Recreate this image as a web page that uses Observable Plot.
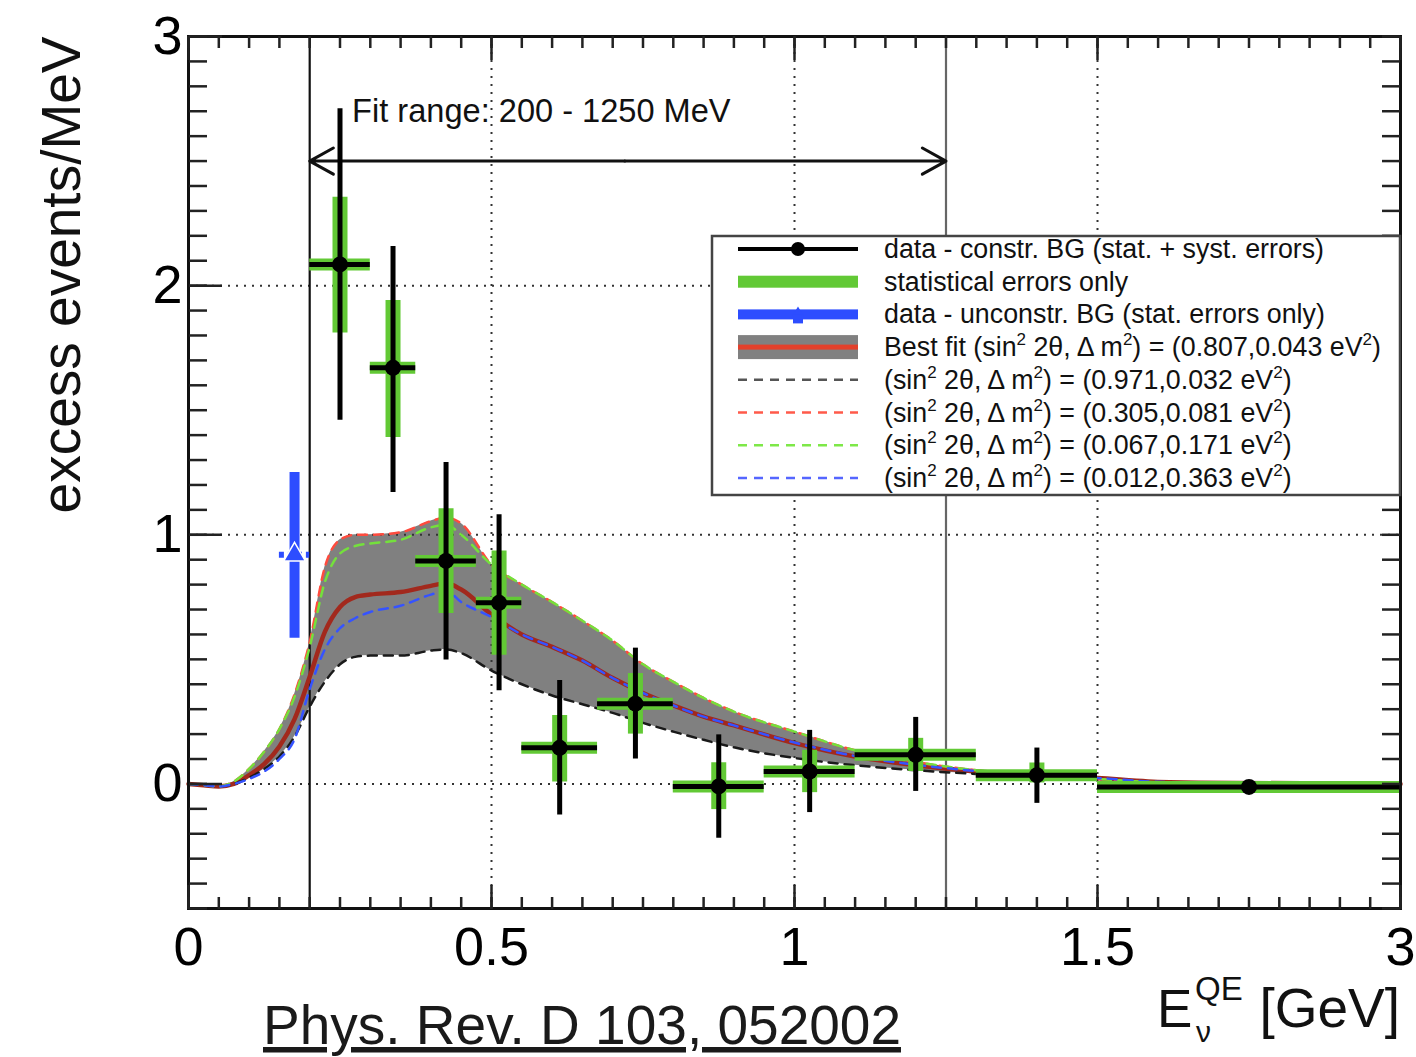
<!DOCTYPE html>
<html><head><meta charset="utf-8">
<script src="https://cdn.jsdelivr.net/npm/d3@7"></script>
<script src="https://cdn.jsdelivr.net/npm/@observablehq/plot@0.6"></script>
<style>body{margin:0;background:#fff;} #chart svg{display:block}</style>
</head><body><div id="chart"></div>
<script>
// ---------- data ----------
// data - constrained BG, bins in GeV (last bin 1.5-3 GeV shown compressed)
const binLo  = [0.2, 0.3, 0.375, 0.475, 0.55, 0.675, 0.8, 0.95, 1.1, 1.3, 1.5];
const binHi  = [0.3, 0.375, 0.475, 0.55, 0.675, 0.8, 0.95, 1.1, 1.3, 1.5, 3.0];
const binMid = [0.25, 0.3375, 0.425, 0.5125, 0.6125, 0.7375, 0.875, 1.025, 1.2, 1.4, 2.25];
const excess = [2.085, 1.67, 0.895, 0.727, 0.145, 0.322, -0.01, 0.05, 0.117, 0.035, -0.012];
const sysHi  = [2.71, 2.157, 1.29, 1.08, 0.415, 0.545, 0.197, 0.215, 0.267, 0.144, 0.0];
const sysLo  = [1.46, 1.17, 0.497, 0.374, -0.125, 0.10, -0.218, -0.115, -0.03, -0.078, -0.024];
const statHi = [2.355, 1.94, 1.104, 0.935, 0.275, 0.443, 0.085, 0.135, 0.183, 0.084, 0.0];
const statLo = [1.81, 1.39, 0.684, 0.516, 0.008, 0.2, -0.103, -0.035, 0.05, 0.004, -0.024];

// data - unconstrained BG (single bin)
const blueLo = [0.15], blueHi = [0.2], blueMid = [0.175];
const blueVal = [0.92], blueErrLo = [0.585], blueErrHi = [1.25];

// model curves
const curveX  = [0, 0.025, 0.05, 0.075, 0.1, 0.125, 0.15, 0.175, 0.2, 0.225, 0.25, 0.275, 0.3, 0.35, 0.4, 0.425, 0.45, 0.5, 0.55, 0.6, 0.65, 0.7, 0.75, 0.8, 0.85, 0.9, 1.0, 1.1, 1.2, 1.3, 1.4, 1.5, 1.75, 2.0, 3.0];
const bestFit = [0, -0.005, -0.01, 0.0, 0.035, 0.08, 0.15, 0.26, 0.43, 0.61, 0.71, 0.75, 0.76, 0.77, 0.795, 0.805, 0.78, 0.68, 0.60, 0.55, 0.495, 0.425, 0.365, 0.315, 0.27, 0.235, 0.164, 0.11, 0.075, 0.05, 0.035, 0.024, 0.01, 0.005, 0];
const fit0971 = [0, -0.005, -0.01, 0.0, 0.025, 0.06, 0.11, 0.19, 0.31, 0.41, 0.48, 0.51, 0.515, 0.515, 0.535, 0.54, 0.525, 0.455, 0.40, 0.355, 0.32, 0.285, 0.245, 0.21, 0.177, 0.147, 0.104, 0.075, 0.055, 0.04, 0.03, 0.02, 0.008, 0.004, 0];
const fit0305 = [0, -0.005, -0.01, 0.01, 0.06, 0.13, 0.22, 0.36, 0.57, 0.87, 0.98, 1.0, 1.0, 1.01, 1.055, 1.07, 1.045, 0.88, 0.80, 0.73, 0.655, 0.575, 0.48, 0.41, 0.345, 0.29, 0.21, 0.135, 0.088, 0.055, 0.035, 0.02, 0.008, 0.004, 0];
const fit0067 = [0, -0.005, -0.01, 0.01, 0.06, 0.13, 0.22, 0.35, 0.55, 0.81, 0.925, 0.955, 0.965, 0.98, 1.03, 1.04, 1.0, 0.88, 0.80, 0.73, 0.655, 0.575, 0.48, 0.41, 0.345, 0.29, 0.21, 0.135, 0.088, 0.055, 0.035, 0.02, 0.008, 0.004, 0];
const fit0012 = [0, -0.005, -0.01, 0.0, 0.02, 0.05, 0.1, 0.18, 0.38, 0.54, 0.625, 0.665, 0.69, 0.715, 0.76, 0.775, 0.73, 0.67, 0.60, 0.55, 0.495, 0.425, 0.365, 0.315, 0.27, 0.235, 0.166, 0.112, 0.077, 0.052, 0.036, 0.024, 0.01, 0.005, 0];

// axes / annotation
const xTickLabels = [0, 0.5, 1, 1.5, 3];
const yTickLabels = [0, 1, 2, 3];
const xGridLines = [0.5, 1, 1.5];
const yGridLines = [0, 1, 2];
const fitRangeEdges = [0.2, 1.25];
const fitRangeText = "Fit range: 200 - 1250 MeV";
const yTitle = "excess events/MeV";
const citation = "Phys. Rev. D 103, 052002";
const legendLabels = [
  "data - constr. BG (stat. + syst. errors)",
  "statistical errors only",
  "data - unconstr. BG (stat. errors only)",
  "Best fit (sin^2 2θ, Δ m^2) = (0.807,0.043 eV^2)",
  "(sin^2 2θ, Δ m^2) = (0.971,0.032 eV^2)",
  "(sin^2 2θ, Δ m^2) = (0.305,0.081 eV^2)",
  "(sin^2 2θ, Δ m^2) = (0.067,0.171 eV^2)",
  "(sin^2 2θ, Δ m^2) = (0.012,0.363 eV^2)"
];

// ---------- build tables ----------
const points = binMid.map((c, i) => ({c, lo: binLo[i], hi: binHi[i], v: excess[i],
  sysLo: sysLo[i], sysHi: sysHi[i], statLo: statLo[i], statHi: statHi[i]}));
const bluePts = blueMid.map((c, i) => ({c, lo: blueLo[i], hi: blueHi[i], v: blueVal[i], eLo: blueErrLo[i], eHi: blueErrHi[i]}));
const curves = curveX.map((x, i) => ({x, bf: bestFit[i], a: fit0971[i], b: fit0305[i], c: fit0067[i], d: fit0012[i]}));

const minorX = [...d3.range(0, 30).map(i => i * 0.05), ...d3.range(0, 11).map(i => 1.5 + i * 0.15)];
const minorY = d3.range(-5, 31).map(i => i / 10);

const font = "'Liberation Sans', Arial, Helvetica, sans-serif";
const GREEN = "#62c935", BLUE = "#2d4dff", GRAY = "#808080";
const curve = "monotone-x";
const tickOpts = {fill: "none", label: null, stroke: "#222", strokeWidth: 2.5};

const svg = Plot.plot({
  width: 1416, height: 1057,
  marginLeft: 188, marginRight: 16, marginTop: 36, marginBottom: 149,
  style: {fontFamily: font, background: "white", color: "black", overflow: "visible"},
  x: {type: "linear", domain: [0, 1.5, 3], range: [188, 1097, 1400]},
  y: {type: "linear", domain: [-0.5, 3]},
  marks: [
    Plot.areaY(curves, {x: "x", y1: "a", y2: "b", fill: GRAY, curve}),
    Plot.ruleX(xGridLines, {stroke: "#333", strokeWidth: 2, strokeDasharray: "2,6"}),
    Plot.ruleY(yGridLines, {stroke: "#333", strokeWidth: 2, strokeDasharray: "2,6"}),
    Plot.ruleX(fitRangeEdges, {stroke: d => d < 1 ? "#111" : "#666", strokeWidth: 2.2}),
    Plot.line(curves, {x: "x", y: "bf", stroke: "#a2291d", strokeWidth: 4.5, curve}),
    Plot.line(curves, {x: "x", y: "a", stroke: "#1a1a1a", strokeWidth: 2.5, strokeDasharray: "9,7", curve}),
    Plot.line(curves, {x: "x", y: "b", stroke: "#ff4b3e", strokeWidth: 2.5, strokeDasharray: "9,7", curve}),
    Plot.line(curves, {x: "x", y: "c", stroke: "#74e03c", strokeWidth: 2.5, strokeDasharray: "9,7", curve}),
    Plot.line(curves, {x: "x", y: "d", stroke: "#3553ff", strokeWidth: 2.5, strokeDasharray: "9,7", curve}),
    Plot.arrow(fitRangeEdges, {x1: 0.72, x2: d => d, y1: 2.5, y2: 2.5, stroke: "#111", strokeWidth: 3, headLength: 13.5, headAngle: 58}),
    Plot.text([fitRangeText], {x: 0.27, y: 2.7, text: d => d, textAnchor: "start", fontSize: 32.6, fill: "#111"}),
    // statistical errors (green)
    Plot.ruleY(points, {x1: "lo", x2: "hi", y: "v", stroke: GREEN, strokeWidth: 12}),
    Plot.ruleX(points, {x: "c", y1: "statLo", y2: "statHi", stroke: GREEN, strokeWidth: 15}),
    // stat + syst (black)
    Plot.ruleY(points, {x1: "lo", x2: "hi", y: "v", stroke: "#000", strokeWidth: 5}),
    Plot.ruleX(points, {x: "c", y1: "sysLo", y2: "sysHi", stroke: "#000", strokeWidth: 5}),
    Plot.dot(points, {x: "c", y: "v", r: 8, fill: "#000"}),
    // unconstrained BG (blue)
    Plot.ruleX(bluePts, {x: "c", y1: "eLo", y2: "eHi", stroke: BLUE, strokeWidth: 10}),
    Plot.ruleY(bluePts, {x1: "lo", x2: "hi", y: "v", stroke: BLUE, strokeWidth: 6, strokeDasharray: "5,4"}),
    Plot.dot(bluePts, {x: "c", y: "v", symbol: "triangle", r: 8, fill: BLUE, stroke: "white", strokeWidth: 1.5}),
    // frame & inward ticks
    Plot.frame({stroke: "#111", strokeWidth: 3}),
    Plot.axisX(minorX, {anchor: "top", frameAnchor: "bottom", tickSize: 12, ...tickOpts}),
    Plot.axisX(xTickLabels, {anchor: "top", frameAnchor: "bottom", tickSize: 24, ...tickOpts}),
    Plot.axisX(minorX, {anchor: "bottom", frameAnchor: "top", tickSize: 12, ...tickOpts}),
    Plot.axisX(xTickLabels, {anchor: "bottom", frameAnchor: "top", tickSize: 24, ...tickOpts}),
    Plot.axisY(minorY, {anchor: "right", frameAnchor: "left", tickSize: 18, ...tickOpts}),
    Plot.axisY(yTickLabels, {anchor: "right", frameAnchor: "left", tickSize: 33, ...tickOpts}),
    Plot.axisY(minorY, {anchor: "left", frameAnchor: "right", tickSize: 18, ...tickOpts}),
    // tick labels
    Plot.axisX(xTickLabels, {anchor: "bottom", tickSize: 0, tickPadding: 18, tickFormat: d => String(d), fontSize: 54, label: null}),
    Plot.axisY(yTickLabels, {anchor: "left", tickSize: 0, tickPadding: 6, tickFormat: d => String(d), fontSize: 54, label: null}),
    // y title
    Plot.text([yTitle], {text: d => d, frameAnchor: "top-left", dx: -148, rotate: -90, textAnchor: "end", fontSize: 55, fill: "#111"})
  ]
});
document.getElementById("chart").appendChild(svg);

// ---------- legend (inside frame, top-right) ----------
const root = d3.select(svg);
const lg = root.append("g").attr("font-family", font).attr("text-anchor", "start");
lg.append("rect").attr("x", 712).attr("y", 236).attr("width", 688).attr("height", 259)
  .attr("fill", "white").attr("stroke", "#444").attr("stroke-width", 2.5);
const rowY = i => 249 + i * 32.7;
const sx0 = 738, sx1 = 858, sxm = 798;
legendLabels.forEach((lab, i) => {
  const y = rowY(i);
  const g = lg.append("g");
  if (i === 0) {
    g.append("line").attr("x1", sx0).attr("x2", sx1).attr("y1", y).attr("y2", y).attr("stroke", "#000").attr("stroke-width", 4);
    g.append("circle").attr("cx", sxm).attr("cy", y).attr("r", 7).attr("fill", "#000");
  } else if (i === 1) {
    g.append("rect").attr("x", sx0).attr("y", y - 6).attr("width", sx1 - sx0).attr("height", 12).attr("fill", GREEN);
  } else if (i === 2) {
    g.append("rect").attr("x", sx0).attr("y", y - 5).attr("width", sx1 - sx0).attr("height", 10).attr("fill", BLUE);
    g.append("path").attr("d", `M${sxm - 6},${y + 2}L${sxm},${y - 8}L${sxm + 6},${y + 2}Z`).attr("fill", BLUE);
    g.append("rect").attr("x", sxm - 5).attr("y", y).attr("width", 10).attr("height", 9).attr("fill", BLUE);
  } else if (i === 3) {
    g.append("rect").attr("x", sx0).attr("y", y - 12).attr("width", sx1 - sx0).attr("height", 24).attr("fill", GRAY);
    g.append("rect").attr("x", sx0).attr("y", y - 2.5).attr("width", sx1 - sx0).attr("height", 5).attr("fill", "#e3402b");
  } else {
    const col = ["#555", "#ff5a4a", "#7ee848", "#5566ff"][i - 4];
    g.append("line").attr("x1", sx0).attr("x2", sx1).attr("y1", y).attr("y2", y)
      .attr("stroke", col).attr("stroke-width", 2.5).attr("stroke-dasharray", "9,7");
  }
  const t = g.append("text").attr("x", 884).attr("y", y + 9).attr("font-size", 26.8).attr("fill", "#111").attr("text-anchor", "start");
  const parts = lab.split("^2");
  parts.forEach((p, k) => {
    t.append("tspan").attr("dy", k === 0 ? 0 : 11).text(p);
    if (k < parts.length - 1) t.append("tspan").attr("dy", -11).attr("font-size", 17).text("2");
  });
});

// ---------- x-axis title ----------
const xt = root.append("g").attr("font-family", font).attr("fill", "#111").attr("text-anchor", "start");
xt.append("text").attr("x", 1157).attr("y", 1027).attr("font-size", 53).text("E");
xt.append("text").attr("x", 1195).attr("y", 1000).attr("font-size", 33).text("QE");
xt.append("text").attr("x", 1196).attr("y", 1042).attr("font-size", 30).text("ν");
xt.append("text").attr("x", 1400).attr("y", 1027).attr("font-size", 55).attr("text-anchor", "end").text("[GeV]");

// ---------- citation ----------
root.append("text").attr("x", 263).attr("y", 1044).attr("font-family", font).attr("font-size", 55)
  .attr("text-anchor", "start").attr("fill", "#1a1a1a").attr("text-decoration", "underline").text(citation);
</script>
</body></html>
